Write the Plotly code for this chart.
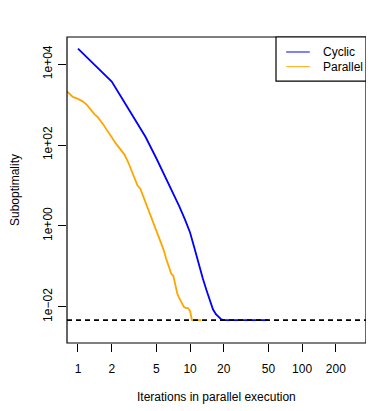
import plotly.graph_objects as go

# values (suboptimality, log scale)
cyclic_iter = [1, 2, 2.5, 3, 4, 5, 6, 7, 8, 9, 10, 11, 12, 13, 14, 15, 16, 17, 18, 19, 20, 25, 30, 40, 50]
cyclic_subopt = [2.4e4, 3.7e3, 1.35e3, 6.0e2, 1.6e2, 4.7e1, 1.66e1, 6.8, 3.1, 1.45,
                 0.69, 0.27, 0.105, 0.050, 0.026, 0.0138, 0.0087, 0.0066, 0.0055, 0.0049,
                 0.0047, 0.0047, 0.0047, 0.0047, 0.0047]

parallel_iter = [0.8, 0.85, 0.9, 1.0, 1.1, 1.2, 1.3, 1.4, 1.5, 1.6, 1.7, 1.8, 1.9, 2.0,
                 2.2, 2.4, 2.6, 2.8, 3.0, 3.2, 3.4, 3.6, 3.8, 4.0, 4.3, 4.6, 5.0, 5.4,
                 5.8, 6.1, 6.4, 6.8, 7.1, 7.4, 7.7, 8.0, 8.4, 8.8, 9.2, 9.6, 10.0, 10.4, 12.6]
parallel_subopt = [2.1e3, 1.75e3, 1.55e3, 1.38e3, 1.2e3, 9.8e2, 7.2e2, 5.8e2, 4.9e2, 4.0e2,
                   3.1e2, 2.4e2, 1.86e2, 1.55e2, 1.05e2, 7.8e1, 5.8e1, 3.8e1, 2.4e1, 1.45e1,
                   1.0e1, 8.3, 5.6, 3.6, 2.1, 1.32, 0.69, 0.44, 0.26, 0.158, 0.102, 0.066,
                   0.058, 0.035, 0.021, 0.0166, 0.0132, 0.0100, 0.0093, 0.0093, 0.0079,
                   0.0047, 0.0047]

optimum = 0.0047

series_names = ["Cyclic", "Parallel"]
series_colors = ["#0000FF", "#FFA500"]

x_ticks = [1, 2, 5, 10, 20, 50, 100, 200]
y_ticks = [1e4, 1e2, 1, 1e-2]
y_labels = ["1e+04", "1e+02", "1e+00", "1e\u221202"]

font = dict(family="Liberation Sans, Arial, sans-serif", size=12, color="black")

fig = go.Figure()
fig.add_trace(go.Scatter(x=cyclic_iter, y=cyclic_subopt, mode="lines", name=series_names[0],
                         line=dict(color=series_colors[0], width=1.8)))
fig.add_trace(go.Scatter(x=parallel_iter, y=parallel_subopt, mode="lines", name=series_names[1],
                         line=dict(color=series_colors[1], width=1.8)))

# plot box, R style
fig.add_shape(type="rect", xref="paper", yref="paper", x0=0, x1=1, y0=0, y1=1,
              line=dict(color="black", width=1.2), layer="above")
fig.add_hline(y=optimum, line=dict(color="black", width=1.6, dash="5px,4px"))

# legend box drawn by hand (top right corner of the plot)
fig.add_shape(type="rect", xref="paper", yref="paper", x0=0.699, x1=1.0, y0=0.856, y1=1.0,
              line=dict(color="black", width=1.2), fillcolor="white", layer="above")
for i, (name, col) in enumerate(zip(series_names, series_colors)):
    yy = 0.951 - i * 0.048
    fig.add_shape(type="line", xref="paper", yref="paper", x0=0.733, x1=0.812,
                  y0=yy, y1=yy, line=dict(color=col, width=1), layer="above")
    fig.add_annotation(text=name, xref="paper", yref="paper", x=0.850, y=yy,
                       xanchor="left", yanchor="middle", showarrow=False, font=font)

fig.add_annotation(text="Iterations in parallel execution", xref="paper", yref="paper",
                   x=0.5, y=0, yshift=-54, showarrow=False, yanchor="middle", font=font)
fig.add_annotation(text="Suboptimality", xref="paper", yref="paper", x=0, y=0.5,
                   xshift=-52, showarrow=False, textangle=-90, xanchor="center", font=font)

# page body has an 8px margin, so the figure is sized to fit the window from there
fig.update_layout(
    width=366, height=403,
    margin=dict(l=59, r=8, t=29, b=68),
    paper_bgcolor="white", plot_bgcolor="white",
    font=font,
    showlegend=False,
)
fig.update_xaxes(type="log", range=[-0.098, 2.57], tickvals=x_ticks,
                 ticktext=[str(v) for v in x_ticks], ticks="outside", ticklen=8,
                 tickcolor="black", showline=False, showgrid=False, zeroline=False,
                 ticklabelstandoff=7)
fig.update_yaxes(type="log", range=[-2.894, 4.67], tickvals=y_ticks, ticktext=y_labels,
                 tickangle=-90, ticks="outside", ticklen=8, tickcolor="black",
                 showline=False, showgrid=False, zeroline=False, ticklabelstandoff=1)

fig.write_html("out.html")
